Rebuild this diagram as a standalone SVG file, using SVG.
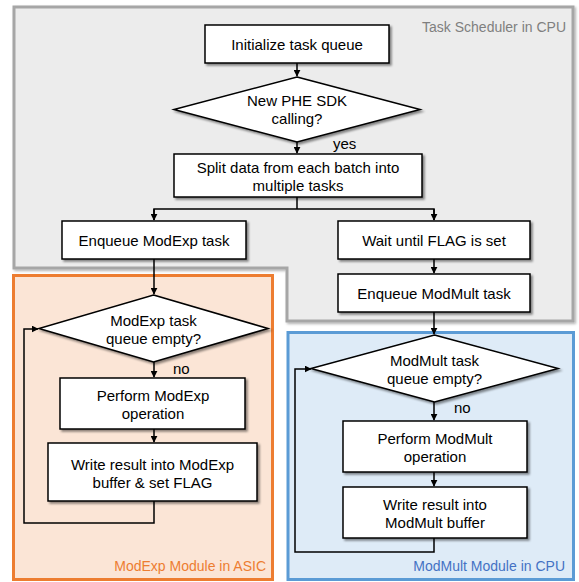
<svg xmlns="http://www.w3.org/2000/svg" width="579" height="582" viewBox="0 0 579 582">
  <defs>
    <filter id="shadow" x="-10%" y="-10%" width="130%" height="140%">
      <feDropShadow dx="2" dy="2" stdDeviation="1.2" flood-color="#000" flood-opacity="0.45"/>
    </filter>
    <filter id="regionShadow" x="-5%" y="-5%" width="110%" height="110%">
      <feDropShadow dx="1.5" dy="1.5" stdDeviation="1" flood-color="#000" flood-opacity="0.3"/>
    </filter>
    <marker id="arrow" viewBox="0 0 10 10" refX="9" refY="5" markerWidth="7" markerHeight="7" markerUnits="userSpaceOnUse" orient="auto">
      <path d="M0,0 L10,5 L0,10 z" fill="#000"/>
    </marker>
  </defs>
  <style>
    .box { fill: #fff; stroke: #000; stroke-width: 1.5; filter: url(#shadow); }
    .txt { font-family: "Liberation Sans", Arial, sans-serif; font-size: 15px; fill: #000; text-anchor: middle; }
    .lbl { font-family: "Liberation Sans", Arial, sans-serif; font-size: 15px; fill: #000; }
    .region-title { font-family: "Liberation Sans", Arial, sans-serif; font-size: 14px; text-anchor: end; }
    .conn { fill: none; stroke: #000; stroke-width: 1.5; }
  </style>

  <!-- Regions -->
  <g id="region-scheduler">
    <path d="M14,7 H573 V321 H287 V268 H14 Z" fill="#ececec" stroke="#a6a6a6" stroke-width="3" filter="url(#regionShadow)"/>
    <text class="region-title" x="566" y="32" fill="#7f7f7f">Task Scheduler in CPU</text>
  </g>
  <g id="region-asic">
    <rect x="13.5" y="275.5" width="259" height="304" fill="#fbe5d6" stroke="#ed7d31" stroke-width="3"/>
    <text class="region-title" x="266" y="571" fill="#ed7d31">ModExp Module in ASIC</text>
  </g>
  <g id="region-cpu">
    <rect x="288" y="332.5" width="285.5" height="247" fill="#deebf7" stroke="#5b9bd5" stroke-width="3"/>
    <text class="region-title" x="565" y="571" fill="#4472c4">ModMult Module in CPU</text>
  </g>

  <!-- Connectors -->
  <g id="connectors">
    <line class="conn" x1="297" y1="63" x2="297" y2="76" marker-end="url(#arrow)"/>
    <line class="conn" x1="297" y1="142" x2="297" y2="153" marker-end="url(#arrow)"/>
    <polyline class="conn" points="297,197 297,209"/>
    <polyline class="conn" points="154,220 154,209 434,209 434,220"/>
    <line class="conn" x1="154" y1="209" x2="154" y2="220" marker-end="url(#arrow)"/>
    <line class="conn" x1="434" y1="209" x2="434" y2="220" marker-end="url(#arrow)"/>
    <line class="conn" x1="434" y1="259" x2="434" y2="273" marker-end="url(#arrow)"/>
    <line class="conn" x1="434" y1="312" x2="434" y2="334" marker-end="url(#arrow)"/>
    <line class="conn" x1="434" y1="402" x2="434" y2="420" marker-end="url(#arrow)"/>
    <line class="conn" x1="434" y1="472" x2="434" y2="486" marker-end="url(#arrow)"/>
    <polyline class="conn" points="434,538 434,552 295,552 295,369 311,369" marker-end="url(#arrow)"/>
    <line class="conn" x1="154" y1="259" x2="154" y2="294" marker-end="url(#arrow)"/>
    <line class="conn" x1="154" y1="362" x2="154" y2="377" marker-end="url(#arrow)"/>
    <line class="conn" x1="154" y1="429" x2="154" y2="442" marker-end="url(#arrow)"/>
    <polyline class="conn" points="154,501 154,523 24,523 24,329 38,329" marker-end="url(#arrow)"/>
    <text class="lbl" x="333" y="149">yes</text>
    <text class="lbl" x="173" y="374">no</text>
    <text class="lbl" x="454" y="413">no</text>
  </g>

  <!-- Scheduler nodes -->
  <g id="init-queue">
    <rect class="box" x="205" y="25" width="184" height="38"/>
    <text class="txt" x="297" y="49.5">Initialize task queue</text>
  </g>
  <g id="sdk-call">
    <polygon class="box" points="297,77 420,109.5 297,142 174,109.5"/>
    <text class="txt" x="297" y="106">New PHE SDK</text>
    <text class="txt" x="297" y="124">calling?</text>
  </g>
  <g id="split-data">
    <rect class="box" x="174" y="154" width="248" height="43"/>
    <text class="txt" x="298" y="172.5">Split data from each batch into</text>
    <text class="txt" x="298" y="190.5">multiple tasks</text>
  </g>
  <g id="enqueue-modexp">
    <rect class="box" x="62" y="221" width="184" height="38"/>
    <text class="txt" x="154" y="245.5">Enqueue ModExp task</text>
  </g>
  <g id="wait-flag">
    <rect class="box" x="338" y="221" width="192" height="38"/>
    <text class="txt" x="434" y="245.5">Wait until FLAG is set</text>
  </g>
  <g id="enqueue-modmult">
    <rect class="box" x="338" y="274" width="192" height="38"/>
    <text class="txt" x="434" y="298.5">Enqueue ModMult task</text>
  </g>

  <!-- ASIC nodes -->
  <g id="modexp-empty">
    <polygon class="box" points="153.5,295 268,328.5 153.5,362 39,328.5"/>
    <text class="txt" x="153.5" y="325.5">ModExp task</text>
    <text class="txt" x="153.5" y="343.5">queue empty?</text>
  </g>
  <g id="perform-modexp">
    <rect class="box" x="60" y="378" width="185" height="51"/>
    <text class="txt" x="153" y="400.5">Perform ModExp</text>
    <text class="txt" x="153" y="418.5">operation</text>
  </g>
  <g id="write-modexp">
    <rect class="box" x="48" y="443" width="209" height="58"/>
    <text class="txt" x="152.5" y="469.5">Write result into ModExp</text>
    <text class="txt" x="152.5" y="487.5">buffer &amp; set FLAG</text>
  </g>

  <!-- CPU nodes -->
  <g id="modmult-empty">
    <polygon class="box" points="434.5,335 558,368.5 434.5,402 311,368.5"/>
    <text class="txt" x="434.5" y="365.5">ModMult task</text>
    <text class="txt" x="434.5" y="383.5">queue empty?</text>
  </g>
  <g id="perform-modmult">
    <rect class="box" x="343" y="421" width="184" height="51"/>
    <text class="txt" x="435" y="443.5">Perform ModMult</text>
    <text class="txt" x="435" y="461.5">operation</text>
  </g>
  <g id="write-modmult">
    <rect class="box" x="343" y="487" width="184" height="51"/>
    <text class="txt" x="435" y="509.5">Write result into</text>
    <text class="txt" x="435" y="527.5">ModMult buffer</text>
  </g>
</svg>
